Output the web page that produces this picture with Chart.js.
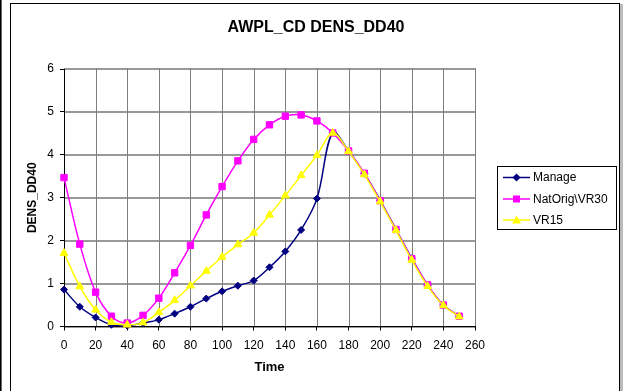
<!DOCTYPE html>
<html>
<head>
<meta charset="utf-8">
<script src="https://cdn.jsdelivr.net/npm/chart.js"></script>
<style>
  body { margin: 0; background: #fff; }
  #wrap { width: 623px; height: 391px; }
</style>
</head>
<body>
<div id="wrap"><canvas id="chart" width="623" height="391"></canvas></div>
<script>
// values
const times = [0, 10, 20, 30, 40, 50, 60, 70, 80, 90, 100, 110, 120, 130, 140, 150, 160, 170, 180, 190, 200, 210, 220, 230, 240, 250];
const manage = [0.86, 0.46, 0.21, 0.04, 0.02, 0.08, 0.16, 0.30, 0.46, 0.65, 0.82, 0.95, 1.07, 1.38, 1.75, 2.25, 2.98, 4.52, 4.09, 3.56, 2.94, 2.26, 1.59, 0.96, 0.50, 0.24];
const natOrig = [3.47, 1.92, 0.80, 0.24, 0.08, 0.26, 0.66, 1.25, 1.89, 2.60, 3.26, 3.86, 4.36, 4.70, 4.90, 4.93, 4.79, 4.51, 4.09, 3.57, 2.93, 2.26, 1.58, 0.97, 0.50, 0.24];
const vr15 = [1.71, 0.93, 0.39, 0.10, 0.04, 0.09, 0.33, 0.61, 0.95, 1.29, 1.62, 1.91, 2.18, 2.60, 3.05, 3.52, 3.99, 4.51, 4.08, 3.54, 2.91, 2.24, 1.55, 0.94, 0.49, 0.23];
const seriesNames = ['Manage', 'NatOrig\\VR30', 'VR15'];
const seriesColors = ['#000080', '#ff00ff', '#ffff00'];
const chartTitle = 'AWPL_CD DENS_DD40';
const xTitle = 'Time';
const yTitle = 'DENS_DD40';

const FONT = '"Liberation Sans", Arial, sans-serif';

function toPoints(vals) {
    return vals.map((v, i) => ({ x: times[i], y: v }));
}

function series(idx, vals, style, radius, order) {
    return {
        label: seriesNames[idx],
        data: toPoints(vals),
        borderColor: seriesColors[idx],
        backgroundColor: seriesColors[idx],
        pointBackgroundColor: seriesColors[idx],
        pointBorderColor: seriesColors[idx],
        pointBorderWidth: 1,
        pointStyle: style,
        pointRadius: radius,
        borderWidth: 1.5,
        tension: 0.35,
        clip: false,
        order: order
    };
}

// drawing a legend marker by hand
function marker(ctx, style, x, y, color) {
    ctx.fillStyle = color;
    ctx.beginPath();
    if (style === 'rectRot') {
        ctx.moveTo(x, y - 4); ctx.lineTo(x + 4, y); ctx.lineTo(x, y + 4); ctx.lineTo(x - 4, y);
    } else if (style === 'rect') {
        ctx.rect(x - 3.5, y - 3.5, 7, 7);
    } else {
        ctx.moveTo(x, y - 4.5); ctx.lineTo(x + 4.5, y + 3.5); ctx.lineTo(x - 4.5, y + 3.5);
    }
    ctx.closePath();
    ctx.fill();
}

const frame = {
    id: 'frame',
    beforeDraw(chart) {
        const ctx = chart.ctx;
        ctx.save();
        ctx.fillStyle = '#ffffff';
        ctx.fillRect(0, 0, chart.width, chart.height);
        ctx.fillStyle = '#000000';
        ctx.fillRect(0, 0, 1, chart.height);
        ctx.fillStyle = '#666666';
        ctx.fillRect(1, 0, 1, chart.height);
        ctx.fillStyle = '#bbbbbb';
        ctx.fillRect(620, 4, 3, chart.height);
        ctx.fillStyle = '#000000';
        ctx.fillRect(10, 3, 1, chart.height);
        ctx.fillRect(10, 3, 610, 1);
        ctx.fillRect(619, 3, 1, chart.height);

        // gridlines as filled strips, placed by the scales
        const xs = chart.scales.x, ys = chart.scales.y;
        const left = Math.round(xs.getPixelForValue(xs.min));
        const right = Math.round(xs.getPixelForValue(xs.max));
        const top = Math.round(ys.getPixelForValue(ys.max));
        const bottom = Math.round(ys.getPixelForValue(ys.min));
        ctx.fillStyle = '#999999';
        for (const t of ys.ticks) {
            const py = Math.round(ys.getPixelForValue(t.value));
            ctx.fillRect(left, py - 1, right - left + 1, 2);
        }
        ctx.fillStyle = '#7f7f7f';
        for (const t of xs.ticks) {
            const px = Math.round(xs.getPixelForValue(t.value));
            ctx.fillRect(px, top - 1, 1, bottom - top + 1);
        }
        ctx.restore();
    },
    afterDraw(chart) {
        const ctx = chart.ctx;
        ctx.save();
        ctx.fillStyle = '#000';
        ctx.font = 'bold 16px ' + FONT;
        ctx.textAlign = 'center';
        ctx.textBaseline = 'middle';
        ctx.fillText(chartTitle, 316, 28);

        // legend box
        ctx.strokeStyle = '#000';
        ctx.lineWidth = 1;
        ctx.strokeRect(497.5, 166.5, 119, 63);
        const styles = ['rectRot', 'rect', 'triangle'];
        const rows = [177.5, 199, 220];
        ctx.font = '12px ' + FONT;
        ctx.textAlign = 'left';
        for (let i = 0; i < 3; i++) {
            ctx.strokeStyle = seriesColors[i];
            ctx.lineWidth = 1.5;
            ctx.beginPath();
            ctx.moveTo(503, rows[i]);
            ctx.lineTo(530, rows[i]);
            ctx.stroke();
            marker(ctx, styles[i], 516.5, rows[i], seriesColors[i]);
            ctx.fillStyle = '#000';
            ctx.fillText(seriesNames[i], 533, rows[i] + 0.5);
        }
        ctx.restore();
    }
};

new Chart(document.getElementById('chart'), {
    type: 'line',
    data: {
        datasets: [
            series(0, manage, 'rectRot', 3.5, 3),
            series(1, natOrig, 'rect', 4.5, 2),
            series(2, vr15, 'triangle', 4.5, 1)
        ]
    },
    options: {
        responsive: false,
        animation: false,
        layout: { padding: { left: 21, right: 148, top: 69, bottom: 11.5 } },
        plugins: {
            legend: { display: false },
            title: { display: false },
            tooltip: { enabled: false }
        },
        scales: {
            x: {
                type: 'linear',
                min: 0,
                max: 260,
                ticks: { stepSize: 20, color: '#000', padding: 8, font: { family: FONT, size: 12 } },
                grid: { drawOnChartArea: false, color: '#000', tickLength: 4 },
                border: { color: '#000', width: 1 },
                title: { display: true, text: xTitle, color: '#000', font: { family: FONT, size: 13, weight: 'bold' } },
                afterFit(scale) { scale.height = 53; }
            },
            y: {
                min: 0,
                max: 6,
                ticks: { stepSize: 1, color: '#000', padding: 6, font: { family: FONT, size: 12 } },
                grid: { drawOnChartArea: false, color: '#000', tickLength: 4 },
                border: { color: '#000', width: 1 },
                title: { display: true, text: yTitle, color: '#000', font: { family: FONT, size: 12, weight: 'bold' } },
                afterFit(scale) { scale.width = 43; }
            }
        }
    },
    plugins: [frame]
});
</script>
</body>
</html>
